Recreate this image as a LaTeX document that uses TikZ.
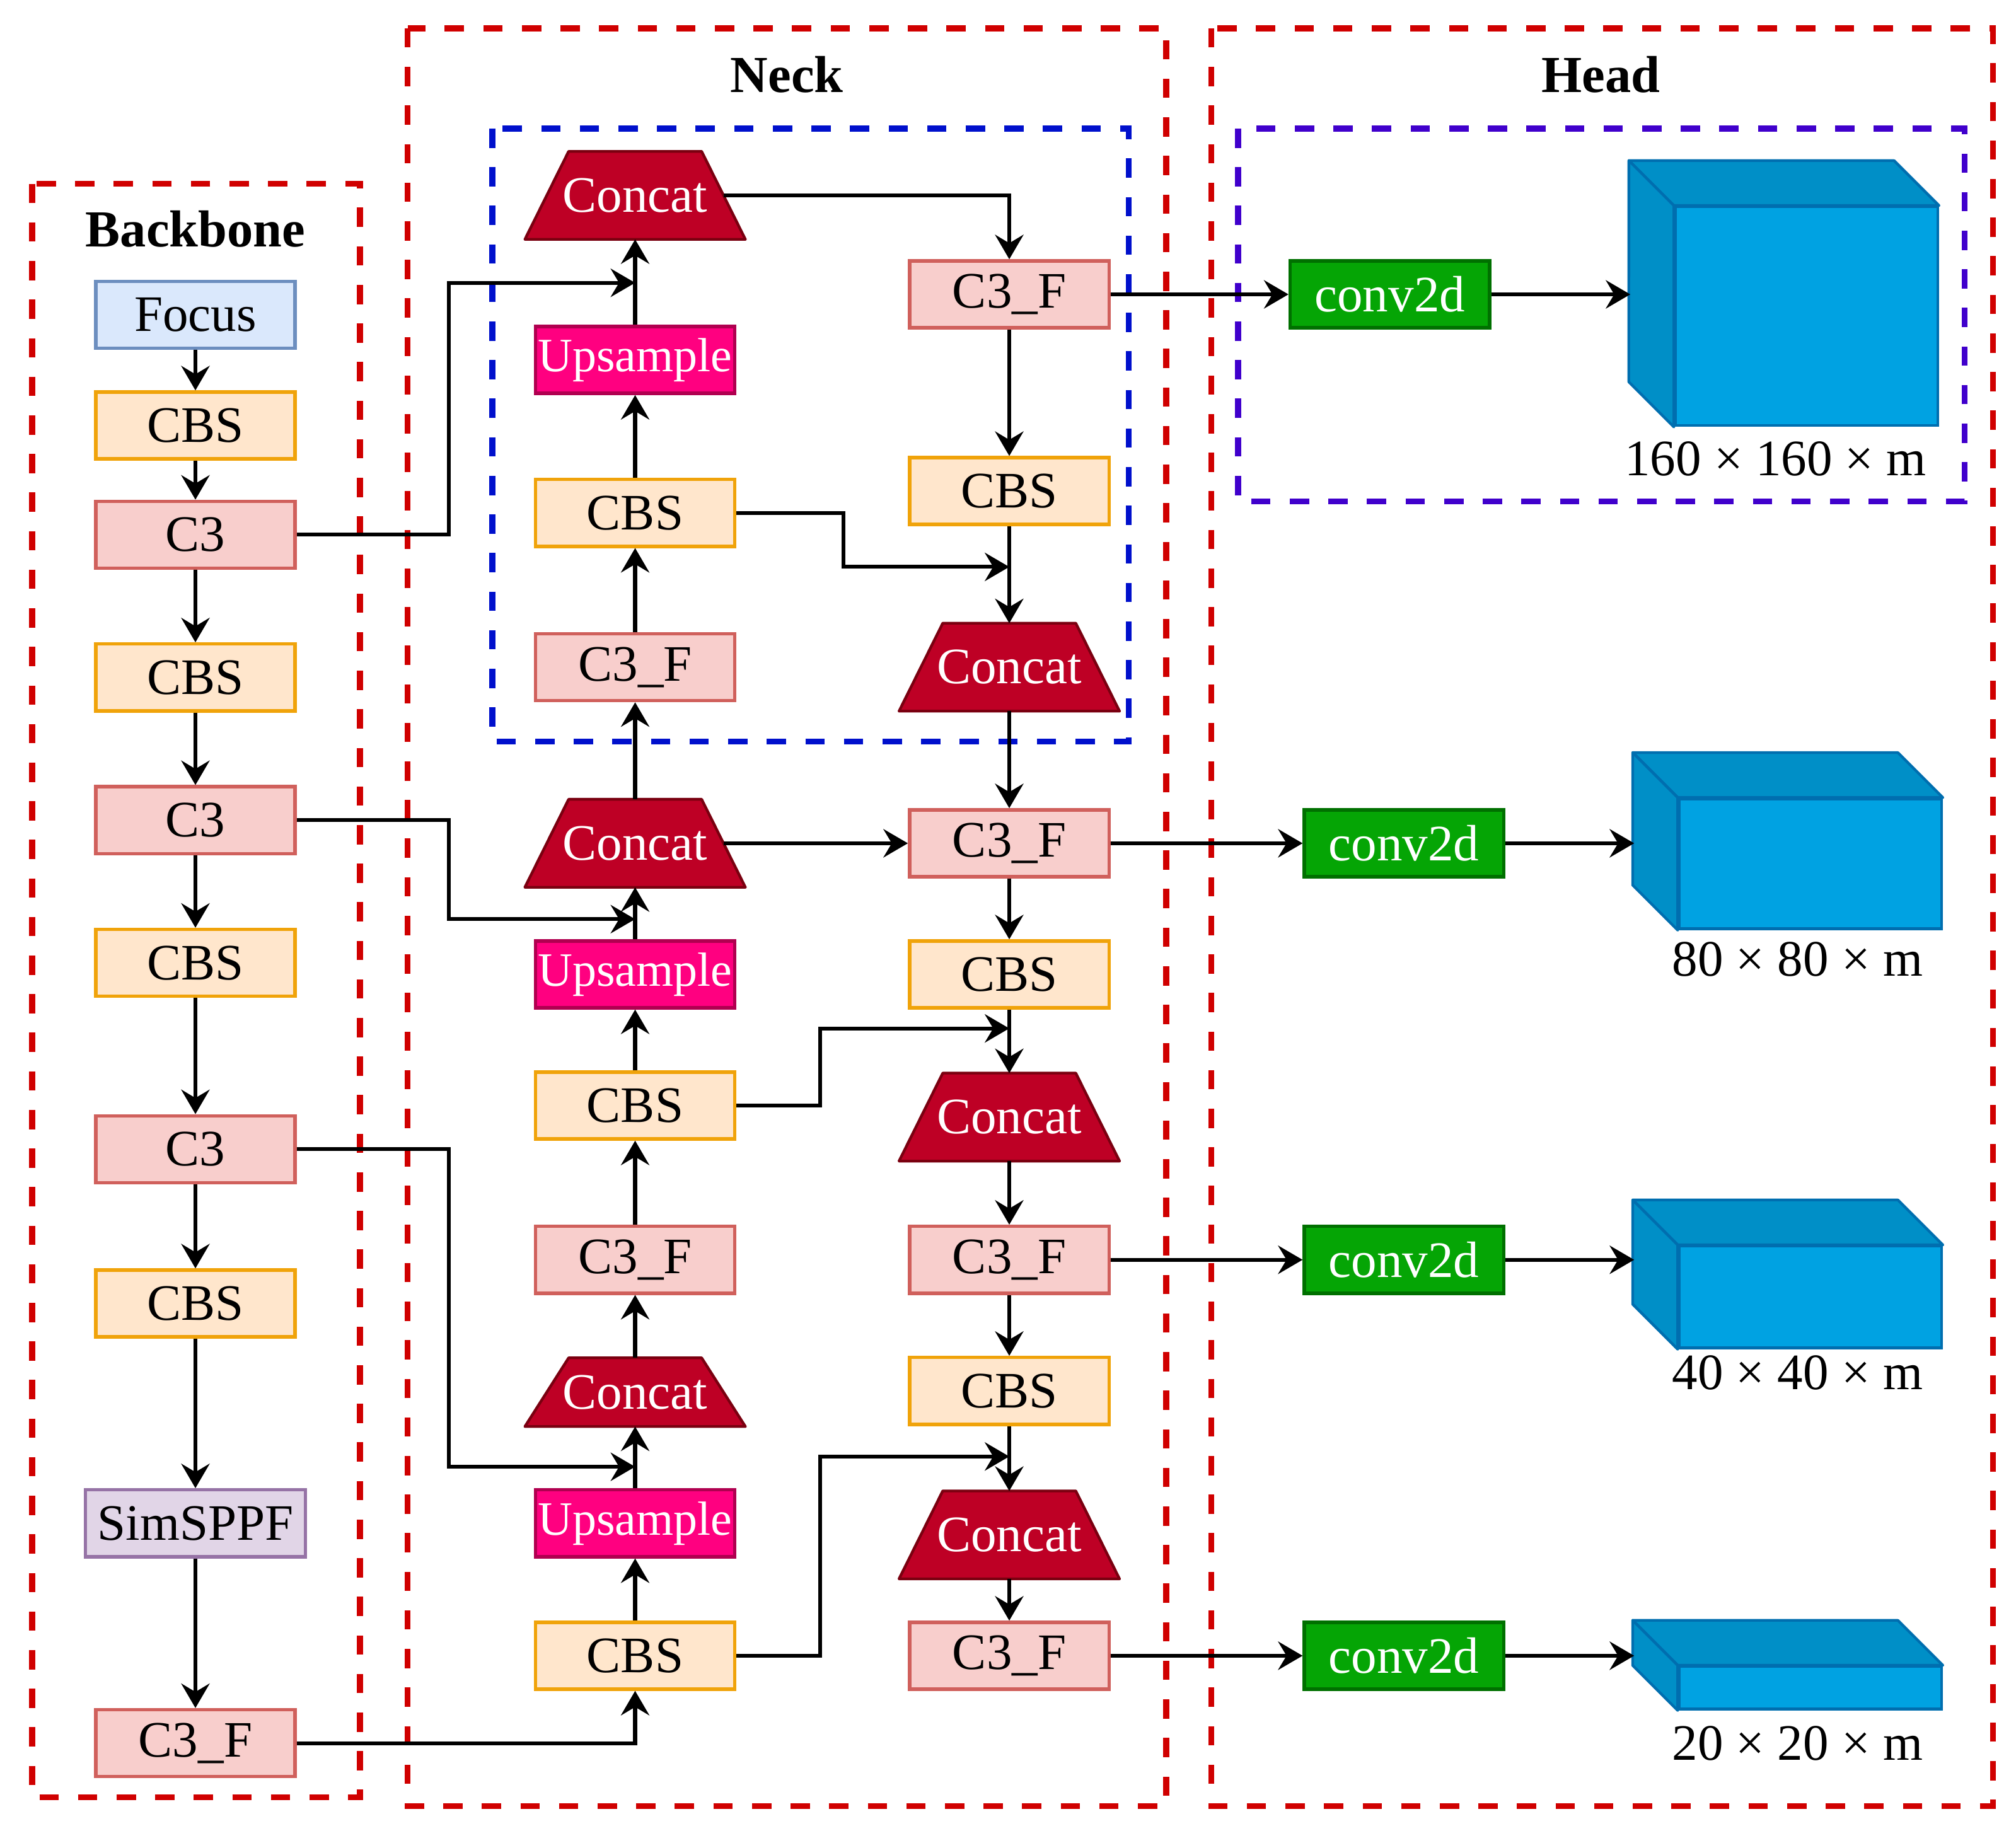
\documentclass[tikz,border=0pt]{standalone}
\usepackage{fontspec}
\setmainfont{Liberation Serif}
\usetikzlibrary{arrows.meta,backgrounds}
\definecolor{grpred}{HTML}{D00000}
\definecolor{grpblue}{HTML}{0010CC}
\definecolor{grppurple}{HTML}{4000CC}
\definecolor{focfill}{HTML}{DAE8FC}
\definecolor{focline}{HTML}{6C8EBF}
\definecolor{cbsfill}{HTML}{FFE6CC}
\definecolor{cbsline}{HTML}{F0A30A}
\definecolor{cfill}{HTML}{F8CECC}
\definecolor{cline}{HTML}{D0605C}
\definecolor{sppfill}{HTML}{E1D5E7}
\definecolor{sppline}{HTML}{9673A6}
\definecolor{upfill}{HTML}{FF0080}
\definecolor{upline}{HTML}{B00050}
\definecolor{convfill}{HTML}{05A505}
\definecolor{convline}{HTML}{007000}
\definecolor{catfill}{HTML}{BE0025}
\definecolor{catline}{HTML}{7A0010}
\definecolor{cubefill}{HTML}{00A2E2}
\definecolor{cubeline}{HTML}{006EAF}

\begin{document}
\begin{tikzpicture}[x=0.01cm,y=-0.01cm,font=\fontsize{11.3}{13}\selectfont,
    blk/.style={draw,line width=0.75pt,minimum width=1.55cm,minimum height=0.52cm,inner sep=0pt},
    focusbox/.style={blk,fill=focfill,draw=focline},
    cbsbox/.style={blk,fill=cbsfill,draw=cbsline},
    cthree/.style={blk,fill=cfill,draw=cline},
    sppbox/.style={blk,minimum width=1.71cm,fill=sppfill,draw=sppline},
    upbox/.style={blk,fill=upfill,draw=upline,text=white,font=\fontsize{10.6}{12}\selectfont},
    convbox/.style={blk,fill=convfill,draw=convline,text=white},
    concat/.style={minimum width=1.7cm,minimum height=0.67cm,inner sep=0pt,text=white},
    lowcat/.style={concat,minimum height=0.52cm},
    catshape/.style={fill=catfill,draw=catline,line width=0.6pt,line join=round},
    cubefront/.style={draw=cubeline,fill=cubefill,line width=0.6pt,minimum width=2.04cm,inner sep=0pt},
    cubeside/.style={draw=cubeline,fill=cubefill!88!black,line width=0.6pt,line join=round},
    group/.style={line width=1.3pt,dash pattern=on 0.15cm off 0.15cm},
    title/.style={font=\fontsize{11.5}{13}\selectfont\bfseries},
    arr/.style={-{Stealth[length=0.19cm,width=0.22cm,inset=0.065cm]},line width=0.85pt}]
    \useasboundingbox (0,0) rectangle (1568,1424);

    \draw[group,grpred] (25,143) rectangle (280,1398);
    \draw[group,grpred] (317,22) rectangle (907,1405);
    \draw[group,grpred] (942,22) rectangle (1550,1405);
    \draw[group,grpblue] (383,100) rectangle (878,577);
    \draw[group,grppurple] (963,100) rectangle (1528,390);

    \node[title] (tback) at (152,178) {Backbone};
    \node[title] (tneck) at (612,58) {Neck};
    \node[title] (thead) at (1245,58) {Head};

    \node[focusbox] (foc) at (152,245) {Focus};
    \node[cbsbox] (bcbs1) at (152,331) {CBS};
    \node[cthree] (bc31) at (152,416) {C3};
    \node[cbsbox] (bcbs2) at (152,527) {CBS};
    \node[cthree] (bc32) at (152,638) {C3};
    \node[cbsbox] (bcbs3) at (152,749) {CBS};
    \node[cthree] (bc33) at (152,894) {C3};
    \node[cbsbox] (bcbs4) at (152,1014) {CBS};
    \node[sppbox] (spp) at (152,1185) {SimSPPF};
    \node[cthree] (bc3f) at (152,1356) {C3\_F};

    \node[concat] (cat1) at (494,152) {Concat};
    \node[upbox] (up1) at (494,280) {Upsample};
    \node[cbsbox] (ncbs1) at (494,399) {CBS};
    \node[cthree] (nc3f1) at (494,519) {C3\_F};
    \node[concat] (cat2) at (494,656) {Concat};
    \node[upbox] (up2) at (494,758) {Upsample};
    \node[cbsbox] (ncbs2) at (494,860) {CBS};
    \node[cthree] (nc3f2) at (494,980) {C3\_F};
    \node[lowcat] (cat3) at (494,1083) {Concat};
    \node[upbox] (up3) at (494,1185) {Upsample};
    \node[cbsbox] (ncbs3) at (494,1288) {CBS};

    \node[cthree] (rc3f1) at (785,229) {C3\_F};
    \node[cbsbox] (rcbs1) at (785,382) {CBS};
    \node[concat] (cat4) at (785,519) {Concat};
    \node[cthree] (rc3f2) at (785,656) {C3\_F};
    \node[cbsbox] (rcbs2) at (785,758) {CBS};
    \node[concat] (cat5) at (785,869) {Concat};
    \node[cthree] (rc3f3) at (785,980) {C3\_F};
    \node[cbsbox] (rcbs3) at (785,1082) {CBS};
    \node[concat] (cat6) at (785,1194) {Concat};
    \node[cthree] (rc3f4) at (785,1288) {C3\_F};

    \begin{scope}[on background layer]
        \foreach \c in {cat1,cat2,cat3,cat4,cat5,cat6}
            \filldraw[catshape] (\c.south west) -- ([xshift=0.34cm]\c.north west) -- ([xshift=-0.34cm]\c.north east) -- (\c.south east) -- cycle;
    \end{scope}

    \node[convbox] (cv1) at (1081,229) {conv2d};
    \node[convbox] (cv2) at (1092,656) {conv2d};
    \node[convbox] (cv3) at (1092,980) {conv2d};
    \node[convbox] (cv4) at (1092,1288) {conv2d};

    \node[cubefront,minimum height=1.70cm] (out1) at (1405,246) {};
    \node[cubefront,minimum height=1.01cm] (out2) at (1408,672) {};
    \node[cubefront,minimum height=0.79cm] (out3) at (1408,1009) {};
    \node[cubefront,minimum height=0.33cm] (out4) at (1408,1313) {};
    \foreach \c in {out1,out2,out3,out4}{
        \filldraw[cubeside] (\c.north west) -- ++(-35,-35) -| ([xshift=-0.35cm,yshift=0.35cm]\c.north east) -- (\c.north east) -- cycle;
        \filldraw[cubeside] (\c.north west) -- ++(-35,-35) -- ([xshift=-0.35cm,yshift=0.35cm]\c.south west) -- (\c.south west) -- cycle;
    }
    \node (lab1) at (1381,357) {160 × 160 × m};
    \node (lab2) at (1398,746) {80 × 80 × m};
    \node (lab3) at (1398,1068) {40 × 40 × m};
    \node (lab4) at (1398,1356) {20 × 20 × m};

    \coordinate (j1) at (494,220);
    \coordinate (j2) at (494,715);
    \coordinate (j3) at (494,1141);
    \coordinate (k1) at (785,441);
    \coordinate (k2) at (785,800);
    \coordinate (k3) at (785,1133);
    \coordinate (e1) at (1268,229);
    \coordinate (e2) at (1271,656);
    \coordinate (e3) at (1271,980);
    \coordinate (e4) at (1271,1288);

    \foreach \a/\b in {foc/bcbs1,bcbs1/bc31,bc31/bcbs2,bcbs2/bc32,bc32/bcbs3,bcbs3/bc33,bc33/bcbs4,bcbs4/spp,spp/bc3f,
        ncbs3/up3,up3/cat3,cat3/nc3f2,nc3f2/ncbs2,ncbs2/up2,up2/cat2,cat2/nc3f1,nc3f1/ncbs1,ncbs1/up1,up1/cat1,
        rc3f1/rcbs1,rcbs1/cat4,cat4/rc3f2,rc3f2/rcbs2,rcbs2/cat5,cat5/rc3f3,rc3f3/rcbs3,rcbs3/cat6,cat6/rc3f4,
        rc3f1/cv1,rc3f2/cv2,rc3f3/cv3,rc3f4/cv4,cv1/e1,cv2/e2,cv3/e3,cv4/e4}
        \draw[arr] (\a) -- (\b);

    \draw[arr] ([xshift=-0.17cm]cat2.east) -- (rc3f2);
    \draw[arr] ([xshift=-0.17cm]cat1.east) -| (rc3f1.north);
    \draw[arr] (bc3f.east) -| (ncbs3.south);
    \draw[arr] (bc31.east) -- (349,416) |- (j1);
    \draw[arr] (bc32.east) -- (349,638) |- (j2);
    \draw[arr] (bc33.east) -- (349,894) |- (j3);
    \draw[arr] (ncbs1.east) -- (656,399) |- (k1);
    \draw[arr] (ncbs2.east) -- (638,860) |- (k2);
    \draw[arr] (ncbs3.east) -- (638,1288) |- (k3);
\end{tikzpicture}
\end{document}
